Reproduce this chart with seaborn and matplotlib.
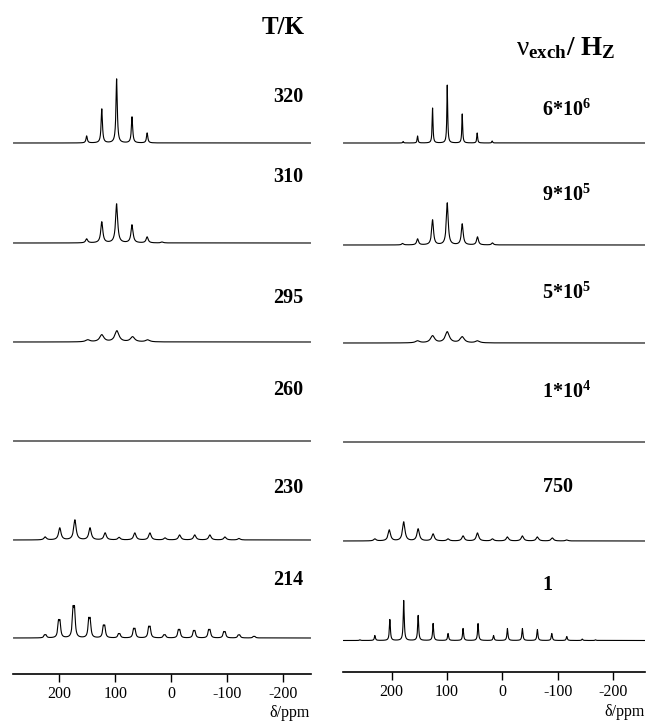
import numpy as np
import pandas as pd
import matplotlib
matplotlib.use("Agg")
import matplotlib.pyplot as plt
import seaborn as sns

# style and fonts (set after seaborn so they stick)

sns.set_style("white")
plt.rcParams["font.family"] = ["Liberation Serif", "DejaVu Serif"]
plt.rcParams["mathtext.fontset"] = "custom"
plt.rcParams["mathtext.rm"] = "Liberation Serif"
plt.rcParams["mathtext.bf"] = "Liberation Serif:bold"
plt.rcParams["mathtext.it"] = "Liberation Serif:italic"
plt.rcParams["axes.unicode_minus"] = False
plt.rcParams["text.color"] = "black"
plt.rcParams["xtick.color"] = "black"
plt.rcParams["xtick.labelcolor"] = "black"

# row labels

temp_labels = ["320", "310", "295", "260", "230", "214"]
exch_labels = [r"$\mathbf{6{*}10^{6}}$", r"$\mathbf{9{*}10^{5}}$", r"$\mathbf{5{*}10^{5}}$",
               r"$\mathbf{1{*}10^{4}}$", r"$\mathbf{750}$", r"$\mathbf{1}$"]
tick_values = [200, 100, 0, -100, -200]
tick_labels = ["200", "100", "0", "-100", "-200"]

t320_pos = [151, 124, 97.5, 70, 43]
t320_h = [7, 34, 64, 26, 10]
t310_pos = [151, 124, 97.5, 70, 43, 16]
t310_h = [4, 21, 39, 18, 6, 1]
t295_pos = [149, 124, 97, 69, 42]
t295_h = [2, 7, 11, 5, 2]
t260_pos = [97]
t260_h = [0]
t230_pos = [225, 199, 172, 145, 118, 93, 65, 38, 11, -15, -42, -69, -96, -121]
t230_h = [3, 12, 20, 12, 7, 2.5, 7, 7, 2, 5, 5, 5, 3, 1.5]
t214_pos = [225, 200, 174, 146, 120, 93, 66, 39, 12, -14, -41, -68, -95, -121, -148]
t214_h = [3, 17, 30, 19, 12, 4, 9, 11, 3, 8, 7, 8, 6, 3, 1.5]

# simulated (right) column

e6_pos = [179, 153, 126, 99.5, 72.5, 45.5, 18.5]
e6_h = [1.5, 7, 35, 58, 29, 10, 2]
e9_pos = [180, 153, 126, 99.5, 72.5, 45, 18]
e9_h = [1.5, 6, 25, 42, 21, 8, 2]
e5_pos = [153, 126, 99.5, 72.5, 45]
e5_h = [2, 7, 11, 6, 2]
e4_pos = [99.5]
e4_h = [0]
e750_pos = [230, 204, 178, 152, 125, 98, 71, 45, 18, -9, -36, -63, -90, -116]
e750_h = [2, 11, 19, 12, 7, 2, 5, 8, 2, 4, 5, 4, 3, 1]
e1_pos = [257, 230, 203, 178, 152, 125, 98, 71, 44, 16, -9, -36, -63, -89, -116, -144, -168]
e1_h = [0.7, 5, 21, 40, 25, 17, 7, 12, 17, 5, 12, 12, 11, 7, 4, 1.5, 0.7]

# half widths (ppm) of the lines in each trace

left_hw = [1.4, 2.2, 4.5, 1.0, 2.6, 1.6]
right_hw = [0.9, 2.0, 4.5, 1.0, 2.6, 1.1]

left_traces = [(t320_pos, t320_h), (t310_pos, t310_h), (t295_pos, t295_h),
               (t260_pos, t260_h), (t230_pos, t230_h), (t214_pos, t214_h)]
right_traces = [(e6_pos, e6_h), (e9_pos, e9_h), (e5_pos, e5_h),
                (e4_pos, e4_h), (e750_pos, e750_h), (e1_pos, e1_h)]


def spectrum(x, pos, h, hw, split=0.0):
    y = np.zeros_like(x)
    for p, a in zip(pos, h):
        if split:
            for c in (p - split / 2, p + split / 2):
                y += a / 1.2 * hw**2 / ((x - c)**2 + hw**2)
        else:
            y += a * hw**2 / ((x - p)**2 + hw**2)
    return y


# figure layout in pixels

W, H = 647, 721
fig = plt.figure(figsize=(W / 100, H / 100), dpi=100)

cols = [
    dict(ax=[13.3, 310.7, 674], xlim=(282, -249), base=[143, 243, 342, 441, 540, 638],
         traces=left_traces, hw=left_hw, split=[0, 0, 0, 0, 0, 2.6]),
    dict(ax=[343.3, 645, 672], xlim=(287, -257), base=[143, 245, 343, 442, 541, 640.5],
         traces=right_traces, hw=right_hw, split=[0] * 6),
]

x = np.linspace(-262, 292, 6000)
axes = []
for c in cols:
    x0, x1, yb = c["ax"]
    ax = fig.add_axes([x0 / W, (H - yb) / H, (x1 - x0) / W, yb / H])
    for (pos, h), b, hw, sp in zip(c["traces"], c["base"], c["hw"], c["split"]):
        y = spectrum(x, pos, h, hw, sp) + (yb - b)
        df = pd.DataFrame({"ppm": x, "I": y})
        sns.lineplot(data=df, x="ppm", y="I", ax=ax, color="black", lw=0.8,
                     estimator=None, sort=False)
    ax.set_xlim(*c["xlim"])
    ax.set_ylim(0, yb)
    for s in ["left", "right", "top"]:
        ax.spines[s].set_visible(False)
    ax.spines["bottom"].set_linewidth(1.2)
    ax.spines["bottom"].set_color("black")
    ax.set_xticks(tick_values)
    ax.set_xticklabels(tick_labels)
    ax.set_yticks([])
    ax.tick_params(axis="x", direction="out", length=6, width=1, labelsize=11.5,
                   pad=3, colors="black", labelcolor="black", bottom=True)
    ax.set_xlabel("")
    ax.set_ylabel("")
    ax.patch.set_alpha(0)
    axes.append(ax)


def ftext(px, py, s, **kw):
    fig.text(px / W, 1 - py / H, s, va="center", color="black", **kw)


# titles

ftext(305, 27, "T/K", ha="right", fontsize=18, fontweight="bold")
ftext(516, 48, r"$\mathrm{\nu}_{\mathbf{exch}}\mathbf{/\ H_{Z}}$", ha="left", fontsize=19.5)

# row labels

left_label_y = [97, 177, 298, 390, 488, 580]
right_label_y = [110, 195, 293, 392, 487, 585]
for s, py in zip(temp_labels, left_label_y):
    ftext(303, py, s, ha="right", fontsize=14.5, fontweight="bold")
for s, py in zip(exch_labels, right_label_y):
    ftext(542, py, s, ha="left", fontsize=14.5)

# axis titles

ftext(310, 713, "δ/ppm", ha="right", fontsize=11.5)
ftext(645, 712, "δ/ppm", ha="right", fontsize=11.5)

fig.savefig("out.png", dpi=100)
